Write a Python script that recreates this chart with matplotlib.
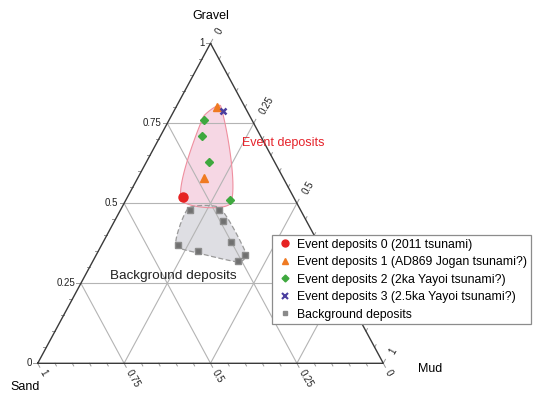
import numpy as np
import matplotlib.pyplot as plt
from matplotlib.lines import Line2D

plt.rcParams['font.family'] = ['Liberation Sans', 'DejaVu Sans']

# grain-size fractions (gravel, sand, mud) of each sample
ev0_gravel = [0.52]
ev0_sand = [0.32]
ev0_mud = [0.16]

ev1_gravel = [0.58, 0.80]
ev1_sand = [0.23, 0.08]
ev1_mud = [0.19, 0.12]

ev2_gravel = [0.76, 0.71, 0.63, 0.51]
ev2_sand = [0.14, 0.17, 0.19, 0.19]
ev2_mud = [0.10, 0.12, 0.18, 0.30]

ev3_gravel = [0.79]
ev3_sand = [0.07]
ev3_mud = [0.14]

bg_gravel = [0.48, 0.48, 0.445, 0.38, 0.34, 0.32, 0.35, 0.37]
bg_sand = [0.32, 0.235, 0.24, 0.25, 0.23, 0.26, 0.36, 0.41]
bg_mud = [0.20, 0.285, 0.315, 0.37, 0.43, 0.42, 0.29, 0.22]

ticks = [0, 0.25, 0.5, 0.75, 1]
tick_labels = ['0', '0.25', '0.5', '0.75', '1']

# figure layout in pixels
W, H = 533, 395
x0, x1, ybase, ytop = 37.7, 383.3, 363.3, 43.3
sx = x1 - x0
sy = ybase - ytop

fig = plt.figure(figsize=(W / 100, H / 100), dpi=100)
ax = fig.add_axes([0, 0, 1, 1])
ax.set_xlim(-x0 / sx, (W - x0) / sx)
ax.set_ylim(-(H - ybase) / sy, 1 + ytop / sy)
ax.axis('off')


def tern(g, m):
    g = np.asarray(g, dtype=float)
    m = np.asarray(m, dtype=float)
    return m + g / 2, g


def px(dx, dy):
    # pixel offset (y down) -> data offset
    return dx / sx, -dy / sy


def smooth_hull(X, Y, pad=4.0, tension=0.6, merge=9.0, n=30):
    P = np.column_stack([np.asarray(X) * sx, np.asarray(Y) * sy])
    pts = sorted(set(map(tuple, P)))

    def cross(o, a, b):
        return (a[0] - o[0]) * (b[1] - o[1]) - (a[1] - o[1]) * (b[0] - o[0])
    lower, upper = [], []
    for p in pts:
        while len(lower) >= 2 and cross(lower[-2], lower[-1], p) <= 0:
            lower.pop()
        lower.append(p)
    for p in reversed(pts):
        while len(upper) >= 2 and cross(upper[-2], upper[-1], p) <= 0:
            upper.pop()
        upper.append(p)
    hull = [np.array(p) for p in lower[:-1] + upper[:-1]]
    # merge hull corners that sit almost on top of each other
    merged = []
    for p in hull:
        if merged and np.linalg.norm(p - merged[-1]) < merge:
            merged[-1] = (merged[-1] + p) / 2
        else:
            merged.append(p)
    if len(merged) > 2 and np.linalg.norm(merged[0] - merged[-1]) < merge:
        merged[0] = (merged[0] + merged.pop()) / 2
    hull = np.array(merged)
    c = hull.mean(axis=0)
    v = hull - c
    hull = hull + pad * v / np.linalg.norm(v, axis=1)[:, None]
    k = len(hull)
    t = np.linspace(0, 1, n, endpoint=False)[:, None]
    h00 = 2 * t ** 3 - 3 * t ** 2 + 1
    h10 = t ** 3 - 2 * t ** 2 + t
    h01 = -2 * t ** 3 + 3 * t ** 2
    h11 = t ** 3 - t ** 2
    out = []
    for i in range(k):
        p0, p1, p2, p3 = hull[i - 1], hull[i], hull[(i + 1) % k], hull[(i + 2) % k]
        seg = np.linalg.norm(p2 - p1)
        u1 = (p2 - p0) / np.linalg.norm(p2 - p0)
        u2 = (p3 - p1) / np.linalg.norm(p3 - p1)
        m1 = tension * seg * u1
        m2 = tension * seg * u2
        out.append(h00 * p1 + h10 * m1 + h01 * p2 + h11 * m2)
    out = np.vstack(out)
    out = np.vstack([out, out[:1]])
    return out[:, 0] / sx, out[:, 1] / sy


# shaded fields around the two groups
ev_g = ev0_gravel + ev1_gravel + ev2_gravel + ev3_gravel
ev_m = ev0_mud + ev1_mud + ev2_mud + ev3_mud
hx, hy = smooth_hull(*tern(ev_g, ev_m), pad=3.0, tension=0.55)
ax.fill(hx, hy, facecolor='#f6d7e4', edgecolor='none', zorder=1)
ax.plot(hx, hy, color='#ef8f9f', lw=0.8, zorder=3)

hx, hy = smooth_hull(*tern(bg_gravel, bg_mud), pad=2.0, tension=0.5)
ax.fill(hx, hy, facecolor='#dedee3', edgecolor='none', zorder=1)
ax.plot(hx, hy, color='#9a9a9a', lw=0.9, ls=(0, (4, 2)), zorder=3)

# grid
grid_kw = dict(color='#b4b4b4', lw=0.8, zorder=2)
for v in ticks[1:-1]:
    ax.plot(*tern([v, v], [0, 1 - v]), **grid_kw)          # gravel
    ax.plot(*tern([0, 1 - v], [v, v]), **grid_kw)          # mud
    ax.plot(*tern([0, 1 - v], [1 - v, 0]), **grid_kw)      # sand

# triangle outline
ax.plot(*tern([0, 0, 1, 0], [0, 1, 0, 0]), color='#3a3a3a', lw=1.0, zorder=3)

# ticks on the three sides
dir_g = np.array([-1.0, 0.0])
dir_s = np.array([0.475, 0.88])
dir_m = np.array([0.475, -0.88])
for v in np.arange(0, 1.0001, 0.05):
    major = abs(v * 4 - round(v * 4)) < 1e-6
    L = 4.5 if major else 3.0
    # gravel on the left side
    bx, by = tern(v, 0)
    d = px(*(dir_g * L))
    ax.plot([bx, bx + d[0]], [by, by + d[1]], color='#9a9a9a', lw=0.7, zorder=2)
    # sand on the base
    bx, by = tern(0, 1 - v)
    d = px(*(dir_s * L))
    ax.plot([bx, bx + d[0]], [by, by + d[1]], color='#9a9a9a', lw=0.7, zorder=2)
    # mud on the right side
    bx, by = tern(1 - v, v)
    d = px(*(dir_m * L))
    ax.plot([bx, bx + d[0]], [by, by + d[1]], color='#9a9a9a', lw=0.7, zorder=2)

for v, lab in zip(ticks, tick_labels):
    bx, by = tern(v, 0)
    d = px(-6, 0)
    ax.text(bx + d[0], by, lab, ha='right', va='center', fontsize=7, color='#222222')
    bx, by = tern(0, 1 - v)
    d = px(4, 7)
    ax.text(bx + d[0], by + d[1], lab, ha='left', va='center', rotation=-60,
            rotation_mode='anchor', fontsize=7, color='#222222')
    bx, by = tern(1 - v, v)
    d = px(8, -10)
    ax.text(bx + d[0], by + d[1], lab, ha='left', va='center', rotation=60,
            rotation_mode='anchor', fontsize=7, color='#222222')

# corner names
ax.text(*tern(1, 0) + np.array(px(0, -27)), 'Gravel', ha='center', va='center', fontsize=9)
ax.text(*tern(0, 0) + np.array(px(-13, 23.5)), 'Sand', ha='center', va='center', fontsize=9)
ax.text(*tern(0, 1) + np.array(px(47, 6)), 'Mud', ha='center', va='center', fontsize=9)

# samples
ax.plot(*tern(bg_gravel, bg_mud), 's', color='#707070', mec='#8c8c8c', ms=4.5, zorder=4)
ax.plot(*tern(ev0_gravel, ev0_mud), 'o', color='#e62222', ms=6.5, zorder=4)
ax.plot(*tern(ev1_gravel, ev1_mud), '^', color='#ef7a22', ms=5.5, zorder=4)
ax.plot(*tern(ev2_gravel, ev2_mud), 'D', color='#3ea83e', ms=4.2, zorder=4)
ax.plot(*tern(ev3_gravel, ev3_mud), 'x', color='#4b3f9f', ms=5, mew=1.8, zorder=5)

ax.text(*tern(0.69, 0.365), 'Event deposits', ha='center', va='center',
        fontsize=9, color='#e5232b')
ax.text(*tern(0.273, 0.255), 'Background deposits', ha='center', va='center',
        fontsize=9.7, color='#222222')

handles = [
    Line2D([], [], ls='none', marker='o', color='#e62222', ms=5),
    Line2D([], [], ls='none', marker='^', color='#ef7a22', ms=4.5),
    Line2D([], [], ls='none', marker='D', color='#3ea83e', ms=3.5),
    Line2D([], [], ls='none', marker='x', color='#4b3f9f', ms=4, mew=1.5),
    Line2D([], [], ls='none', marker='s', color='#8a8a8a', ms=3.5),
]
labels = ['Event deposits 0 (2011 tsunami)',
          'Event deposits 1 (AD869 Jogan tsunami?)',
          'Event deposits 2 (2ka Yayoi tsunami?)',
          'Event deposits 3 (2.5ka Yayoi tsunami?)',
          'Background deposits']
leg = fig.legend(handles, labels, loc='upper left',
                 bbox_to_anchor=(271.7 / W, 1 - 235 / H), borderaxespad=0,
                 fontsize=8.8, frameon=True, fancybox=False, framealpha=1,
                 edgecolor='#8c8c8c', borderpad=0.3, handlelength=1.6,
                 handletextpad=0.2, labelspacing=0.45)
leg.get_frame().set_linewidth(0.9)
leg.set_zorder(10)

fig.savefig('out.png', dpi=100)
